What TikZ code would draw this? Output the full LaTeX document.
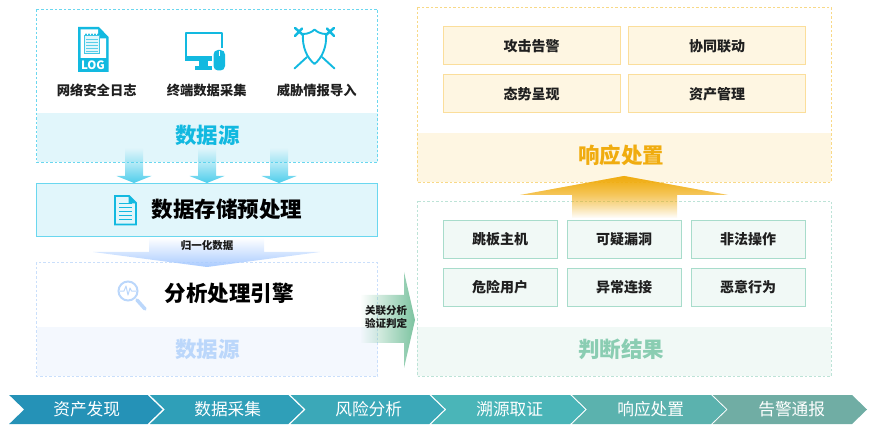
\documentclass[tikz,border=0pt]{standalone}
\usepackage{fontspec}
\setmainfont{Noto Sans CJK SC}
\usetikzlibrary{fadings}
\definecolor{cyanC}{HTML}{12B9E0}
\definecolor{cyanB}{HTML}{6AD7EF}
\definecolor{cyanF}{HTML}{E1F6FB}
\definecolor{cyanA}{HTML}{4DCDEB}
\definecolor{blueB}{HTML}{CADFFB}
\definecolor{blueF}{HTML}{F4F8FE}
\definecolor{blueT}{HTML}{BBD7FB}
\definecolor{blueA}{HTML}{A9CBFF}
\definecolor{orgB}{HTML}{F8D987}
\definecolor{orgF}{HTML}{FEF6E2}
\definecolor{orgT}{HTML}{F0AC0F}
\definecolor{orgC}{HTML}{FBDE9B}
\definecolor{grnB}{HTML}{BDE3D7}
\definecolor{grnF}{HTML}{F1F9F6}
\definecolor{grnT}{HTML}{8ACDB2}
\definecolor{grnC}{HTML}{A8DCCB}
\definecolor{grnA}{HTML}{7CC3A0}
\tikzfading[name=fadeTop,top color=transparent!100,bottom color=transparent!0]
\tikzfading[name=fadeBot,top color=transparent!0,bottom color=transparent!100]
\tikzfading[name=fadeLeft,left color=transparent!100,right color=transparent!0]
\tikzset{
  x=1pt,y=-1pt,
  dashbox/.style={dash pattern=on 2.5pt off 2pt,line width=.9pt},
  title/.style={font=\fontsize{21.5}{24}\selectfont\bfseries,inner sep=0pt},
  label/.style={font=\fontsize{13.3}{15}\selectfont\bfseries,text=black!88,inner sep=0pt},
  orgcell/.style={draw=orgC,fill=orgF,font=\fontsize{14}{16}\selectfont\bfseries,text=black!88,minimum width=177pt,minimum height=38pt,inner sep=0pt,line width=1pt},
  grncell/.style={draw=grnC,fill=grnF,font=\fontsize{14}{16}\selectfont\bfseries,text=black!88,minimum width=114pt,minimum height=38pt,inner sep=0pt,line width=1pt},
  small/.style={font=\fontsize{10.5}{12.5}\selectfont\bfseries,text=black!90,inner sep=0pt,align=center},
  stagetext/.style={font=\fontsize{16.7}{20}\selectfont,text=white,inner sep=0pt},
  icon/.style={cyanC,line width=1.9pt,line join=round,line cap=round},
  fadeall/.style={path fading=#1,fit fading=true}
}
\begin{document}
\begin{tikzpicture}
\useasboundingbox (0,0) rectangle (874,435);
% panels
\fill[cyanF] (36.5,113) rectangle (377.5,162.5);
\draw[cyanB,dashbox] (36.5,9.5) rectangle (377.5,162.5);
\fill[blueF] (36.5,327) rectangle (377.5,376);
\draw[blueB,dashbox] (36.5,262.5) rectangle (377.5,376);
\fill[orgF] (417,133) rectangle (831,182);
\draw[orgB,dashbox] (417,7.5) rectangle (831,182);
\fill[grnF] (417,327) rectangle (831,376);
\draw[grnB,dashbox] (417,201) rectangle (831,376);
% store box
\node[draw=cyanB,fill=cyanF,line width=1pt,minimum width=341pt,minimum height=53pt,inner sep=0pt] (store) at (207,210) {};
% down arrows
\foreach \cx in {134,207,279}{
  \fill[cyanA,fadeall=fadeTop] (\cx-9,148) -- (\cx+9,148) -- (\cx+9,176) -- (\cx+17.5,176) -- (\cx,183) -- (\cx-17.5,176) -- (\cx-9,176) -- cycle;
}
% normalised-data arrow
\fill[blueA,fadeall=fadeTop] (149,237.5) -- (264,237.5) -- (264,252) -- (320,252) -- (207,267) -- (93,252) -- (149,252) -- cycle;
\node[small] (norm) at (207,246) {归一化数据};
% correlation arrow
\fill[grnA,fadeall=fadeLeft] (360,295) -- (404,295) -- (404,272) -- (415,320) -- (404,368) -- (404,343) -- (360,343) -- cycle;
\node[small] (rel) at (386,317) {关联分析\\验证判定};
% response arrow
\fill[orgT,fadeall=fadeBot] (624,176) -- (728,195) -- (677,195) -- (677,218) -- (572,218) -- (572,195) -- (520,195) -- cycle;
\fill[orgT,fadeall=fadeBot,fill opacity=.5] (624,176) -- (728,195) -- (677,195) -- (677,218) -- (572,218) -- (572,195) -- (520,195) -- cycle;
% titles
\node[title,text=cyanC] (t1) at (207.5,135.5) {数据源};
\node[title,text=blueT] (t2) at (207.5,349) {数据源};
\node[title,text=orgT] (t3) at (621,155) {响应处置};
\node[title,text=grnT] (t4) at (621,349) {判断结果};
\node[title,text=black] (t5) at (227,209) {数据存储预处理};
\node[title,text=black] (t6) at (229,293) {分析处理引擎};
% source labels
\node[label] (l1) at (96.7,90) {网络安全日志};
\node[label] (l2) at (206.7,90) {终端数据采集};
\node[label] (l3) at (316.7,90) {威胁情报导入};
% orange cells
\node[orgcell] (o1) at (531.5,46) {攻击告警};
\node[orgcell] (o2) at (717,46) {协同联动};
\node[orgcell] (o3) at (531.5,94) {态势呈现};
\node[orgcell] (o4) at (717,94) {资产管理};
% green cells
\node[grncell] (g1) at (500,239.5) {跳板主机};
\node[grncell] (g2) at (624,239.5) {可疑漏洞};
\node[grncell] (g3) at (748,239.5) {非法操作};
\node[grncell] (g4) at (500,287.5) {危险用户};
\node[grncell] (g5) at (624,287.5) {异常连接};
\node[grncell] (g6) at (748,287.5) {恶意行为};
% process chevrons
\foreach \i/\c/\t in {0/2592B7/资产发现,1/2F9FB8/数据采集,2/3BA8B8/风险分析,3/4AB5B8/溯源取证,4/5BB2AE/响应处置,5/70ADA4/告警通报}{
  \definecolor{segc}{HTML}{\c}
  \pgfmathsetmacro{\xl}{9.2+\i*140.7}
  \pgfmathsetmacro{\xr}{147.5+\i*140.9}
  \fill[segc] (\xl,395) -- (\xr,395) -- (\xr+15,409.5) -- (\xr,424) -- (\xl,424) -- (\xl+15,409.5) -- cycle;
  \node[stagetext] (s\i) at (86.7+\i*141,409.5) {\t};
}
% LOG icon
\fill[cyanC] (78,27) -- (99,27) -- (108.5,37) -- (108.5,72) -- (78,72) -- cycle;
\fill[white] (80.5,29.5) -- (98,29.5) -- (98,38.5) -- (106,38.5) -- (106,58) -- (80.5,58) -- cycle;
\draw[cyanC!80,line width=.7pt,fill=cyanF] (84,35) rectangle (99.5,53.5);
\foreach \yy in {39,42,45,48,51}{\draw[cyanC!70,line width=.6pt] (86,\yy) -- (97.5,\yy);}
\foreach \xx in {86,89,92,95,98}{\fill[cyanC] (\xx,34.5) circle (1pt);}
\node[text=white,font=\fontsize{11.5}{12}\selectfont\bfseries,inner sep=0pt] (log) at (93,65) {LOG};
% monitor icon
\draw[cyanC,line width=2.2pt,line join=round] (186,33.2) rectangle (222,57);
\fill[cyanC] (185,56) rectangle (222,61.5);
\fill[cyanC] (199,61.5) rectangle (208,66.5);
\fill[cyanC] (195,66.5) rectangle (213,70);
\fill[white] (211.5,48) rectangle (226.5,72);
\fill[cyanC,rounded corners=4.5pt] (213.5,50) rectangle (225,70.5);
\draw[white,line width=.8pt] (219.2,51) -- (219.2,56.5);
% shield icon
\draw[icon] (303,34) .. controls (308,34) and (312,32) .. (314.5,29.5) .. controls (317,32) and (321,34) .. (326,34) .. controls (327,47) and (322,58) .. (314.5,64) .. controls (307,58) and (302,47) .. (303,34) -- cycle;
\draw[icon] (294.5,68.5) -- (307,57) (334.5,68.5) -- (322,57);
\draw[icon,line width=2.5pt] (295,28) -- (303,35) (295,36) -- (302,28.5) (334,28) -- (326,35) (334,36) -- (327,28.5);
% document icon
\draw[cyanC,line width=1.8pt,line join=miter] (115,196) -- (129,196) -- (136,203) -- (136,224.5) -- (115,224.5) -- cycle;
\fill[cyanC] (128.5,196) -- (128.5,203.5) -- (136,203.5) -- cycle;
\foreach \yy in {204,208,212,216,220}{\draw[cyanC,line width=1pt] (119,\yy) -- (132,\yy);}
% magnifier icon
\draw[blueT,line width=2pt] (128,291) circle (9.5pt);
\draw[blueT,line width=1pt,line join=round] (120,291) -- (124,291) -- (126,286) -- (128,295) -- (130,288) -- (131.5,291) -- (136,291);
\draw[blueT,line width=3.5pt,line cap=round] (137,300) -- (145,309);
\end{tikzpicture}
\end{document}
